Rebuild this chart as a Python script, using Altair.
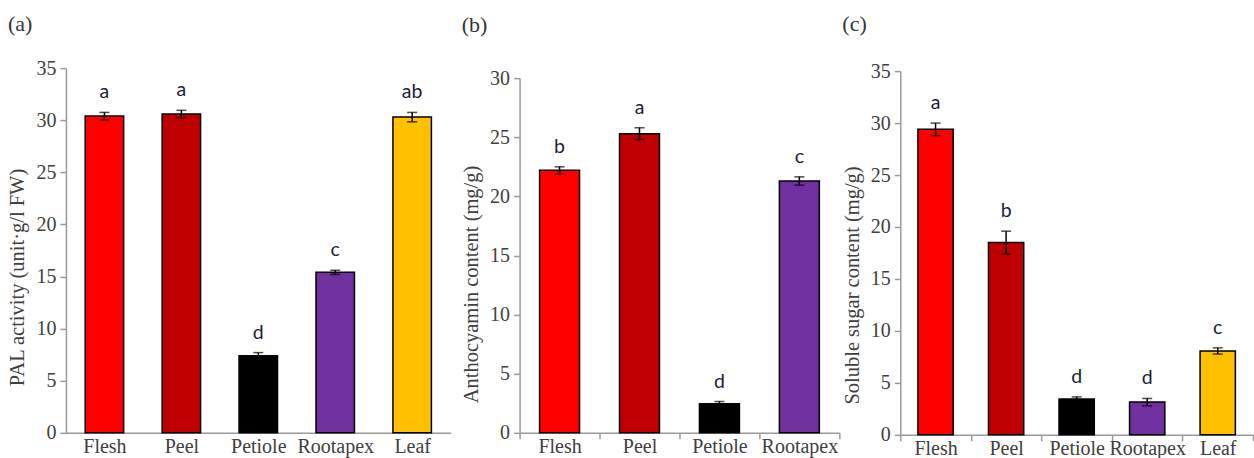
import altair as alt
import pandas as pd

# ---- data ----
cats_a = ["Flesh", "Peel", "Petiole", "Rootapex", "Leaf"]
pal_values = [30.4, 30.6, 7.4, 15.4, 30.3]
pal_errors = [0.35, 0.35, 0.3, 0.2, 0.45]
pal_letters = ["a", "a", "d", "c", "ab"]

cats_b = ["Flesh", "Peel", "Petiole", "Rootapex"]
anth_values = [22.2, 25.3, 2.45, 21.3]
anth_errors = [0.3, 0.5, 0.2, 0.35]
anth_letters = ["b", "a", "d", "c"]

cats_c = ["Flesh", "Peel", "Petiole", "Rootapex", "Leaf"]
sugar_values = [29.4, 18.5, 3.45, 3.15, 8.07]
sugar_errors = [0.6, 1.1, 0.2, 0.35, 0.3]
sugar_letters = ["a", "b", "d", "d", "c"]

color_cats = ["Flesh", "Peel", "Petiole", "Rootapex", "Leaf"]
color_vals = ["#FF0000", "#C00000", "#000000", "#7030A0", "#FFC000"]

SERIF = "Liberation Serif"
SANS = "Lato"
AX_GRAY = "#9a9a9a"
TXT = "#404040"


def panel(cats, vals, errs, letters, ytitle, label, width, xrange, height, yrange,
          ymax, xticks, title_offset, title_y):
    df = pd.DataFrame({
        "cat": cats,
        "val": vals,
        "lo": [v - e for v, e in zip(vals, errs)],
        "hi": [v + e for v, e in zip(vals, errs)],
        "letter": letters,
    })
    xs = alt.Scale(paddingInner=0, paddingOuter=0, range=xrange)
    x = alt.X(
        "cat:N", sort=cats, scale=xs,
        axis=alt.Axis(
            title=None, labelAngle=0, labelFont=SERIF, labelFontSize=20,
            labelColor=TXT, domainColor=AX_GRAY, domainWidth=1.5,
            ticks=xticks, tickBand="extent", tickColor=AX_GRAY, tickSize=6,
            tickWidth=1.5, labelPadding=-2 if xticks else 4,
        ),
    )
    xe = alt.X("cat:N", sort=cats, scale=xs)
    yscale = alt.Scale(domain=[0, ymax], nice=False, zero=True, range=yrange)
    base = alt.Chart(df)
    bars = base.mark_bar(stroke="black", strokeWidth=1.5,
                         width=alt.RelativeBandSize(0.5)).encode(
        x=x,
        y=alt.Y(
            "val:Q", scale=yscale,
            axis=alt.Axis(
                title=ytitle, values=list(range(0, ymax + 1, 5)), grid=False,
                labelFont=SERIF, labelFontSize=20, labelColor=TXT,
                titleFont=SERIF, titleFontSize=20.5, titleFontWeight="normal",
                titleColor=TXT, titlePadding=8, labelPadding=4, titleY=title_y,
                domainColor=AX_GRAY, domainWidth=1.5, tickColor=AX_GRAY,
                tickSize=6, tickWidth=1.5,
            ),
        ),
        color=alt.Color("cat:N", scale=alt.Scale(domain=color_cats, range=color_vals), legend=None),
    )
    rules = base.mark_rule(color="black", strokeWidth=1.5).encode(
        x=xe, y=alt.Y("lo:Q"), y2="hi:Q"
    )
    caps_hi = base.mark_tick(color="black", thickness=1.5, size=10).encode(
        x=xe, y=alt.Y("hi:Q")
    )
    caps_lo = base.mark_tick(color="black", thickness=1.5, size=10).encode(
        x=xe, y=alt.Y("lo:Q")
    )
    text = base.mark_text(
        font=SANS, fontSize=19.5, color="#1a1d3a", baseline="middle", dy=-20
    ).encode(x=xe, y=alt.Y("hi:Q"), text="letter:N")
    return alt.layer(bars, rules, caps_hi, caps_lo, text).properties(
        width=width, height=height,
        title=alt.TitleParams(
            label, anchor="start", frame="bounds", font=SERIF, fontSize=22,
            fontWeight="normal", color="#333333", offset=title_offset,
        ),
    )


pa = panel(cats_a, pal_values, pal_errors, pal_letters,
           "PAL activity (unit·g/l FW)", "(a)", 385, [0, 385], 365, [365, 0],
           35, False, 22, 209)
pb = panel(cats_b, anth_values, anth_errors, anth_letters,
           "Anthocyamin content (mg/g)", "(b)", 312, [0, 320], 365, [365, 10],
           30, True, 31, 216)
pc = panel(cats_c, sugar_values, sugar_errors, sugar_letters,
           "Soluble sugar content (mg/g)", "(c)", 353, [0, 353], 367, [367, 3],
           35, True, 25, 217)

chart = alt.hconcat(pa, pb, pc, spacing=69, bounds="flush").properties(
    padding={"left": 8, "top": 13, "right": 0, "bottom": 0},
    background="white",
).configure_view(stroke=None)

chart.save("out.html", embed_options={"renderer": "svg", "actions": False})
